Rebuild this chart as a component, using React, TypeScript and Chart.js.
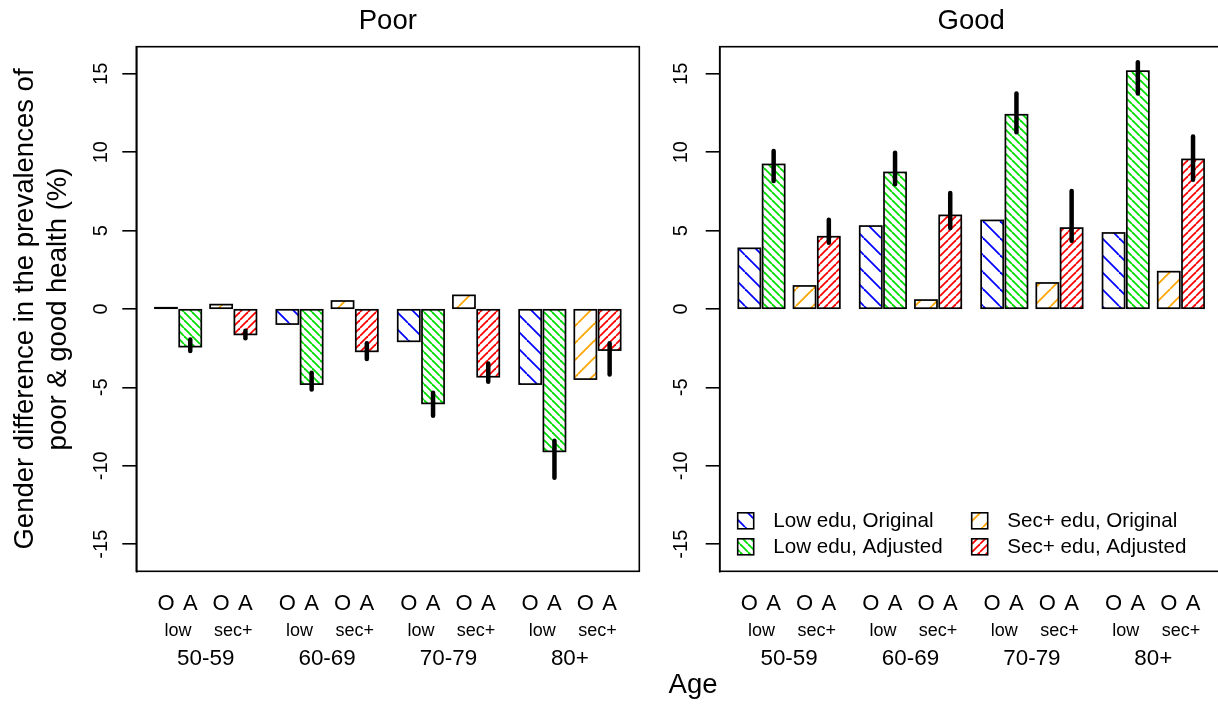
import React, { useEffect, useRef } from "react";
import { Chart, registerables } from "chart.js";

Chart.register(...registerables);

// ---------- data ----------
const ageGroups = ["50-59", "60-69", "70-79", "80+"];
const eduLabels = ["low", "sec+"];
const typeLabels = ["O", "A", "O", "A"];
const seriesNames = ["Low edu, Original", "Low edu, Adjusted", "Sec+ edu, Original", "Sec+ edu, Adjusted"];
const yTickValues = [-15, -10, -5, 0, 5, 10, 15];

// Poor health panel
const poorLowOrig = [0.08, -0.96, -2.06, -4.79];
const poorLowAdj = [-2.4, -4.79, -6.02, -9.08];
const poorSecOrig = [0.28, 0.51, 0.87, -4.47];
const poorSecAdj = [-1.62, -2.7, -4.32, -2.62];
const poorLowAdjLo = [-2.68, -5.13, -6.81, -10.76];
const poorLowAdjHi = [-1.94, -4.06, -5.34, -8.4];
const poorSecAdjLo = [-1.87, -3.19, -4.64, -4.17];
const poorSecAdjHi = [-1.38, -2.19, -3.47, -2.19];

// Good health panel
const goodLowOrig = [3.87, 5.29, 5.65, 4.85];
const goodLowAdj = [9.22, 8.71, 12.39, 15.17];
const goodSecOrig = [1.47, 0.57, 1.66, 2.38];
const goodSecAdj = [4.61, 5.97, 5.16, 9.54];
const goodLowAdjLo = [8.16, 7.95, 11.28, 13.75];
const goodLowAdjHi = [10.07, 9.97, 13.75, 15.74];
const goodSecAdjLo = [4.23, 5.16, 4.36, 8.25];
const goodSecAdjHi = [5.7, 7.4, 7.52, 11.0];

// ---------- layout constants (barplot units: bar width = 1) ----------
const SLOT_OFFSETS = [0.5, 1.6, 3.0, 4.1];
const GROUP_PERIOD = 5.5;
const X_MIN = -0.844;
const X_MAX = 21.944;
const Y_LIM = 16.73;

const FONT = '"Liberation Sans", Arial, Helvetica, sans-serif';
const HATCH_COLORS = ["#0000FF", "#00DD00", "#FFA500", "#FF0000"];
const HATCH_SPACING = [17, 8, 17, 8];
const HATCH_DIR = ["back", "back", "fwd", "fwd"];

function makeHatch(color: string, spacing: number, dir: string): CanvasPattern {
  const c = document.createElement("canvas");
  c.width = spacing;
  c.height = spacing;
  const g = c.getContext("2d")!;
  g.strokeStyle = color;
  g.lineWidth = 1.8;
  for (let k = -1; k <= 1; k++) {
    g.beginPath();
    if (dir === "back") {
      g.moveTo(k * spacing, 0);
      g.lineTo(k * spacing + spacing, spacing);
    } else {
      g.moveTo(k * spacing, spacing);
      g.lineTo(k * spacing + spacing, 0);
    }
    g.stroke();
  }
  return g.createPattern(c, "repeat")!;
}

type PanelOpts = {
  title: string;
  errors: { ds: number; lo: number[]; hi: number[] }[];
  showYTitle: boolean;
  showLegend: boolean;
  showAge: boolean;
  patterns: CanvasPattern[];
  tickLabelOffset: number;
};

function makePanelPlugin(p: PanelOpts) {
  return {
    id: "panel",
    afterDatasetsDraw(chart: any) {
      const ctx = chart.ctx;
      const ys = chart.scales.y;
      const a = chart.chartArea;
      ctx.save();
      // bar outlines, centred on the bar edges (R style)
      ctx.strokeStyle = "#000";
      ctx.lineWidth = 1.7;
      chart.data.datasets.forEach((_: any, di: number) => {
        const meta = chart.getDatasetMeta(di);
        meta.data.forEach((el: any) => {
          const { x, y, base, width } = el.getProps(["x", "y", "base", "width"], true);
          ctx.strokeRect(x - width / 2, Math.min(y, base), width, Math.abs(y - base));
        });
      });
      // error bars
      ctx.lineWidth = 4.5;
      ctx.lineCap = "round";
      p.errors.forEach(({ ds, lo, hi }) => {
        const meta = chart.getDatasetMeta(ds);
        meta.data.forEach((el: any, j: number) => {
          ctx.beginPath();
          ctx.moveTo(el.x, ys.getPixelForValue(lo[j]));
          ctx.lineTo(el.x, ys.getPixelForValue(hi[j]));
          ctx.stroke();
        });
      });
      ctx.lineWidth = 1.6;
      ctx.lineCap = "butt";
      ctx.strokeRect(a.left, a.top, a.right - a.left, a.bottom - a.top);
      ctx.restore();
    },
    afterDraw(chart: any) {
      const ctx = chart.ctx;
      const ys = chart.scales.y;
      const a = chart.chartArea;
      ctx.save();
      ctx.fillStyle = "#000";
      ctx.textAlign = "center";
      ctx.textBaseline = "middle";

      // title
      ctx.font = `27.5px ${FONT}`;
      ctx.fillText(p.title, (a.left + a.right) / 2, 21);

      // y tick labels (rotated, as in R)
      ctx.font = `20px ${FONT}`;
      ys.ticks.forEach((t: any) => {
        const py = ys.getPixelForValue(t.value);
        ctx.save();
        ctx.translate(a.left - p.tickLabelOffset, py);
        ctx.rotate(-Math.PI / 2);
        ctx.fillText(String(t.value), 0, 0);
        ctx.restore();
      });

      // x labels
      const metas = [0, 1, 2, 3].map((i) => chart.getDatasetMeta(i));
      ageGroups.forEach((age, g) => {
        const xs = metas.map((m) => m.data[g].x);
        ctx.font = `22px ${FONT}`;
        xs.forEach((x: number, si: number) => ctx.fillText(typeLabels[si], x, a.bottom + 33));
        ctx.font = `18px ${FONT}`;
        ctx.fillText(eduLabels[0], (xs[0] + xs[1]) / 2, a.bottom + 60);
        ctx.fillText(eduLabels[1], (xs[2] + xs[3]) / 2, a.bottom + 60);
        ctx.font = `22.4px ${FONT}`;
        ctx.fillText(age, (xs[0] + xs[3]) / 2, a.bottom + 88);
      });

      if (p.showYTitle) {
        ctx.font = `27.5px ${FONT}`;
        const cy = (a.top + a.bottom) / 2;
        ctx.save();
        ctx.translate(25, cy);
        ctx.rotate(-Math.PI / 2);
        ctx.fillText("Gender difference in the prevalences of", 0, 0);
        ctx.restore();
        ctx.save();
        ctx.translate(58, cy);
        ctx.rotate(-Math.PI / 2);
        ctx.fillText("poor & good health (%)", 0, 0);
        ctx.restore();
      }

      if (p.showAge) {
        ctx.font = `27.5px ${FONT}`;
        ctx.fillText("Age", 693, 685);
      }

      if (p.showLegend) {
        ctx.font = `20.6px ${FONT}`;
        ctx.textAlign = "left";
        const cols = [a.left + 18, a.left + 252];
        const rows = [a.bottom - 50.5, a.bottom - 24.5];
        const sz = 16;
        seriesNames.forEach((name, si) => {
          const col = si < 2 ? 0 : 1;
          const row = si % 2;
          const bx = cols[col];
          const by = rows[row];
          ctx.fillStyle = p.patterns[si];
          ctx.fillRect(bx, by - sz / 2, sz, sz);
          ctx.strokeStyle = "#000";
          ctx.lineWidth = 1.6;
          ctx.strokeRect(bx, by - sz / 2, sz, sz);
          ctx.fillStyle = "#000";
          ctx.fillText(name, bx + 35.6, by + 1);
        });
      }
      ctx.restore();
    },
  };
}

function buildConfig(
  values: number[][],
  patterns: CanvasPattern[],
  padding: { left: number; right: number; top: number; bottom: number },
  panel: PanelOpts
): any {
  const positions: number[] = [];
  ageGroups.forEach((_, g) => SLOT_OFFSETS.forEach((o) => positions.push(g * GROUP_PERIOD + o)));
  return {
    type: "bar",
    data: {
      datasets: values.map((vals, si) => ({
        label: seriesNames[si],
        data: vals.map((v, g) => ({ x: g * GROUP_PERIOD + SLOT_OFFSETS[si], y: v })),
        backgroundColor: patterns[si],
        borderWidth: 0,
        grouped: false,
        categoryPercentage: 1,
        barPercentage: 1 / 1.1,
      })),
    },
    options: {
      animation: false,
      responsive: false,
      events: [],
      layout: { padding },
      plugins: { legend: { display: false }, title: { display: false }, tooltip: { enabled: false } },
      scales: {
        x: {
          type: "linear",
          display: false,
          offset: false,
          min: X_MIN,
          max: X_MAX,
          grid: { offset: false },
          afterBuildTicks: (ax: any) => {
            ax.ticks = positions.map((v) => ({ value: v }));
          },
        },
        y: {
          type: "linear",
          min: -Y_LIM,
          max: Y_LIM,
          afterBuildTicks: (ax: any) => {
            ax.ticks = yTickValues.map((v) => ({ value: v }));
          },
          afterFit: (ax: any) => {
            ax.width = 20;
          },
          ticks: { display: false },
          grid: { drawOnChartArea: false, drawTicks: true, tickLength: 14, color: "#000", lineWidth: 1.6 },
          border: { display: true, color: "#000", width: 1.6 },
        },
      },
    },
    plugins: [makePanelPlugin(panel)],
  };
}

export default function App() {
  const leftRef = useRef<HTMLCanvasElement>(null);
  const rightRef = useRef<HTMLCanvasElement>(null);

  useEffect(() => {
    const patterns = HATCH_COLORS.map((c, i) => makeHatch(c, HATCH_SPACING[i], HATCH_DIR[i]));
    const left = new Chart(
      leftRef.current!,
      buildConfig(
        [poorLowOrig, poorLowAdj, poorSecOrig, poorSecAdj],
        patterns,
        { left: 116.3, right: 120.7, top: 46.7, bottom: 132.7 },
        {
          title: "Poor",
          errors: [
            { ds: 1, lo: poorLowAdjLo, hi: poorLowAdjHi },
            { ds: 3, lo: poorSecAdjLo, hi: poorSecAdjHi },
          ],
          showYTitle: true,
          showLegend: false,
          showAge: true,
          patterns,
          tickLabelOffset: 35,
        }
      )
    );
    const right = new Chart(
      rightRef.current!,
      buildConfig(
        [goodLowOrig, goodLowAdj, goodSecOrig, goodSecAdj],
        patterns,
        { left: 39.7, right: 7.3, top: 46.7, bottom: 132.7 },
        {
          title: "Good",
          errors: [
            { ds: 1, lo: goodLowAdjLo, hi: goodLowAdjHi },
            { ds: 3, lo: goodSecAdjLo, hi: goodSecAdjHi },
          ],
          showYTitle: false,
          showLegend: true,
          showAge: false,
          patterns,
          tickLabelOffset: 38,
        }
      )
    );
    return () => {
      left.destroy();
      right.destroy();
    };
  }, []);

  return (
    <div
      style={{
        position: "fixed",
        left: 0,
        top: 0,
        width: 1218,
        height: 704,
        overflow: "hidden",
        background: "#fff",
      }}
    >
      <canvas ref={leftRef} width={760} height={704} style={{ position: "absolute", left: 0, top: 0 }} />
      <canvas ref={rightRef} width={570} height={704} style={{ position: "absolute", left: 660, top: 0 }} />
    </div>
  );
}
